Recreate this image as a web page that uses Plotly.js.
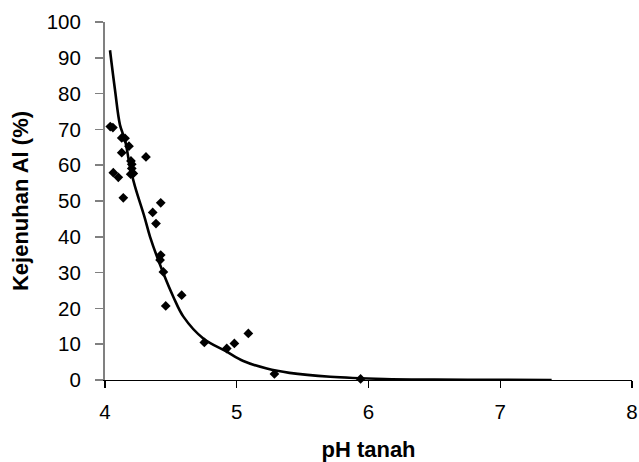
<!DOCTYPE html>
<html>
<head>
<meta charset="utf-8">
<script src="https://cdn.plot.ly/plotly-3.0.1.min.js"></script>
<style>html,body{margin:0;padding:0;background:#fff;}#chart{width:639px;height:462px;}</style>
</head>
<body>
<div id="chart"></div>
<script>
// Observed data: soil pH vs Al saturation (%)
const phTanah = [4.04, 4.06, 4.127, 4.152, 4.182, 4.127, 4.311, 4.197, 4.203, 4.063, 4.101, 4.203, 4.215, 4.195, 4.139,
                 4.423, 4.362, 4.387, 4.423, 4.418, 4.443, 4.582, 4.461, 4.754, 4.924, 4.982, 5.088, 5.286, 5.94];
const kejenuhanAl = [70.8, 70.5, 67.6, 67.5, 65.3, 63.5, 62.3, 61.2, 60.3, 57.9, 56.6, 59.1, 57.7, 57.5, 50.9,
                     49.5, 46.8, 43.7, 34.9, 33.5, 30.2, 23.7, 20.7, 10.5, 8.8, 10.2, 13.0, 1.7, 0.3];
// Trend curve, values
const trendPh = [4.038, 4.076, 4.114, 4.152, 4.19, 4.228, 4.30, 4.342, 4.443, 4.519, 4.595, 4.746, 4.924, 5.05, 5.228, 5.40, 5.71, 6.12, 6.5, 7.0, 7.39];
const trendAl = [92.1, 81.0, 71.2, 67.0, 59.5, 54.0, 45.5, 40.0, 29.8, 23.2, 17.7, 11.6, 7.9, 5.3, 3.2, 2.0, 0.9, 0.3, 0.12, 0.03, 0.0];

const xTicks = [4, 5, 6, 7, 8];
const yTicks = [0, 10, 20, 30, 40, 50, 60, 70, 80, 90, 100];

const traces = [
  {
    x: phTanah, y: kejenuhanAl, type: 'scatter', mode: 'markers',
    marker: {symbol: 'diamond', size: 7.5, color: '#000'},
    cliponaxis: false, hoverinfo: 'x+y'
  },
  {
    x: trendPh, y: trendAl, type: 'scatter', mode: 'lines',
    line: {color: '#000', width: 2.6, shape: 'spline', smoothing: 1},
    hoverinfo: 'none'
  }
];

const tickFont = {family: '"Liberation Sans", Arial, sans-serif', size: 20.5, color: '#000'};
const titleFont = {family: '"Liberation Sans", Arial, sans-serif', size: 22, color: '#000', weight: 'bold'};

const layout = {
  width: 639, height: 462,
  margin: {l: 105, r: 7, t: 22, b: 82},
  paper_bgcolor: '#fff', plot_bgcolor: '#fff',
  showlegend: false,
  xaxis: {
    range: [4, 8], tickvals: xTicks, ticktext: xTicks.map(String),
    showgrid: false, zeroline: false,
    showline: true, linecolor: '#000', linewidth: 1.2,
    ticks: 'outside', ticklen: 7, tickcolor: '#000', tickwidth: 1.2,
    ticklabelstandoff: 6,
    tickfont: tickFont,
    title: {text: 'pH tanah', font: titleFont, standoff: 22}
  },
  yaxis: {
    range: [0, 100], tickvals: yTicks, ticktext: yTicks.map(String),
    showgrid: false, zeroline: false,
    showline: true, linecolor: '#808080', linewidth: 2,
    ticks: 'outside', ticklen: 8, tickcolor: '#808080', tickwidth: 1.5,
    ticklabelstandoff: 10,
    tickfont: tickFont,
    title: {text: 'Kejenuhan Al (%)', font: titleFont, standoff: 12}
  }
};

Plotly.newPlot('chart', traces, layout, {displayModeBar: false, staticPlot: true});
</script>
</body>
</html>
